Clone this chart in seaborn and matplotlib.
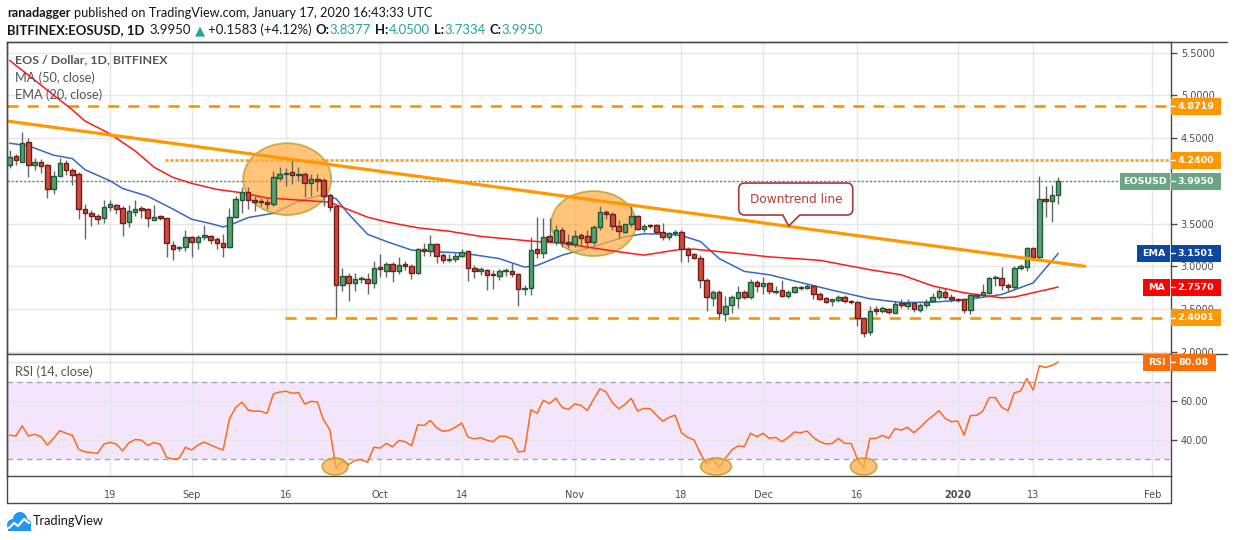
import matplotlib
matplotlib.use("Agg")
import numpy as np
import pandas as pd
import seaborn as sns
import matplotlib.pyplot as plt
import matplotlib.dates as mdates
from matplotlib.patches import Ellipse, Rectangle, PathPatch
from matplotlib.path import Path
from matplotlib.lines import Line2D

W, H = 1234, 540

# ---- daily candles EOS/USD (Aug 3 2019 -> Jan 17 2020) ----
first_day = "2019-08-03"
opens = [
    4.18, 4.29, 4.22, 4.46, 4.18, 4.22, 4.18, 3.91, 4.06, 4.21, 4.13, 4.08, 3.67, 3.62, 3.59,
    3.57, 3.69, 3.72, 3.68, 3.52, 3.63, 3.68, 3.67, 3.54, 3.59, 3.56, 3.25, 3.21, 3.22,
    3.34, 3.28, 3.34, 3.36, 3.32, 3.27, 3.22, 3.58, 3.78, 3.875, 3.775, 3.76, 3.75, 3.73, 4.035,
    4.08, 4.10, 4.07, 4.085, 3.97, 4.02, 4.005, 3.83, 3.70, 2.78, 2.89, 2.805, 2.85, 2.85, 2.80,
    2.995, 2.95, 3.025, 2.94, 3.03, 3.005, 2.92, 3.20, 3.18, 3.255, 3.13, 3.075, 3.08, 3.12, 3.18,
    2.98, 2.945, 2.96, 2.902, 2.885, 2.94, 2.945, 2.91, 2.735, 2.74, 3.205, 3.15, 3.355, 3.285, 3.42, 3.283,
    3.26, 3.37, 3.35, 3.28, 3.46, 3.637, 3.615, 3.475, 3.405, 3.49, 3.59, 3.44, 3.487, 3.485, 3.405,
    3.34, 3.385, 3.405, 3.20, 3.14, 3.093, 2.84, 2.63, 2.70, 2.44, 2.545, 2.63, 2.70, 2.64, 2.815,
    2.765, 2.805, 2.70, 2.72, 2.65, 2.70, 2.75, 2.745, 2.77, 2.68, 2.627, 2.592, 2.605, 2.643, 2.59,
    2.58, 2.39, 2.228, 2.497, 2.477, 2.505, 2.458, 2.573, 2.535, 2.566, 2.489, 2.543, 2.592, 2.642, 2.70, 2.642,
    2.612, 2.62, 2.488, 2.65, 2.665, 2.69, 2.858, 2.862, 2.785, 2.758, 2.985, 2.99, 3.208, 3.104, 3.786,
    3.76, 3.8377,
]
highs = [
    4.36, 4.31, 4.57, 4.50, 4.27, 4.26, 4.20, 4.11, 4.27, 4.24, 4.15, 4.10, 3.73, 3.66, 3.61,
    3.77, 3.78, 3.73, 3.70, 3.72, 3.78, 3.70, 3.68, 3.72, 3.60, 3.56, 3.29, 3.24, 3.43,
    3.36, 3.37, 3.48, 3.37, 3.34, 3.38, 3.68, 3.82, 3.93, 3.93, 3.825, 3.80, 3.80, 4.12, 4.16,
    4.15, 4.24, 4.16, 4.105, 4.075, 4.075, 4.035, 3.86, 3.71, 2.98, 2.92, 2.92, 2.89, 2.92, 3.06,
    3.145, 3.055, 3.055, 3.105, 3.06, 3.03, 3.21, 3.275, 3.37, 3.275, 3.15, 3.145, 3.15, 3.20, 3.19,
    3.02, 2.995, 2.97, 2.96, 2.97, 2.98, 3.035, 2.92, 2.785, 3.345, 3.58, 3.565, 3.565, 3.48, 3.46, 3.38,
    3.42, 3.39, 3.42, 3.48, 3.70, 3.66, 3.63, 3.545, 3.50, 3.70, 3.605, 3.50, 3.50, 3.50, 3.505,
    3.40, 3.42, 3.42, 3.22, 3.16, 3.13, 2.86, 2.72, 2.72, 2.65, 2.66, 2.77, 2.72, 2.85, 2.84,
    2.875, 2.81, 2.765, 2.84, 2.72, 2.77, 2.77, 2.79, 2.785, 2.695, 2.64, 2.62, 2.658, 2.658, 2.61,
    2.59, 2.41, 2.54, 2.535, 2.535, 2.515, 2.592, 2.62, 2.612, 2.573, 2.573, 2.612, 2.689, 2.746, 2.746, 2.67,
    2.63, 2.63, 2.69, 2.69, 2.796, 2.87, 2.90, 2.99, 2.804, 3.004, 3.028, 3.22, 3.22, 4.055, 3.94,
    3.95, 4.05,
]
lows = [
    4.15, 4.18, 4.22, 4.04, 4.13, 4.09, 3.80, 3.85, 4.06, 4.07, 3.95, 3.55, 3.32, 3.47, 3.49,
    3.51, 3.65, 3.61, 3.36, 3.46, 3.59, 3.57, 3.46, 3.54, 3.54, 3.11, 3.07, 3.18, 3.18,
    3.11, 3.20, 3.31, 3.26, 3.20, 3.11, 3.21, 3.56, 3.62, 3.67, 3.65, 3.71, 3.67, 3.70, 4.00,
    3.94, 3.96, 4.00, 3.81, 3.825, 3.88, 3.71, 3.65, 2.41, 2.71, 2.59, 2.71, 2.80, 2.68, 2.74,
    2.875, 2.875, 2.81, 2.91, 2.96, 2.85, 2.91, 3.12, 3.12, 3.04, 3.04, 3.045, 3.055, 3.105, 2.825,
    2.865, 2.90, 2.72, 2.735, 2.835, 2.885, 2.87, 2.535, 2.66, 2.665, 3.095, 3.095, 3.27, 3.25, 3.23, 3.21,
    3.22, 3.25, 3.21, 3.25, 3.42, 3.555, 3.42, 3.325, 3.385, 3.46, 3.42, 3.40, 3.45, 3.38, 3.305,
    3.305, 3.35, 3.045, 3.045, 3.085, 2.75, 2.48, 2.535, 2.38, 2.36, 2.45, 2.515, 2.62, 2.62, 2.695,
    2.68, 2.67, 2.67, 2.64, 2.63, 2.69, 2.72, 2.73, 2.62, 2.61, 2.565, 2.53, 2.58, 2.573, 2.555,
    2.30, 2.17, 2.19, 2.43, 2.458, 2.438, 2.45, 2.515, 2.504, 2.466, 2.466, 2.515, 2.58, 2.62, 2.612, 2.58,
    2.58, 2.45, 2.44, 2.63, 2.65, 2.68, 2.773, 2.727, 2.696, 2.72, 2.958, 2.94, 3.074, 3.089, 3.574,
    3.52, 3.7334,
]
closes = [
    4.28, 4.24, 4.44, 4.19, 4.22, 4.17, 3.91, 4.06, 4.21, 4.13, 4.07, 3.67, 3.62, 3.59, 3.55,
    3.69, 3.73, 3.67, 3.51, 3.65, 3.67, 3.66, 3.56, 3.58, 3.56, 3.27, 3.20, 3.23, 3.34,
    3.28, 3.34, 3.37, 3.31, 3.27, 3.22, 3.58, 3.79, 3.875, 3.78, 3.75, 3.75, 3.725, 4.04, 4.085,
    4.095, 4.07, 4.085, 3.97, 4.02, 4.00, 3.825, 3.69, 2.78, 2.89, 2.80, 2.85, 2.855, 2.80, 2.98,
    2.97, 3.025, 2.94, 3.01, 3.005, 2.92, 3.20, 3.18, 3.255, 3.125, 3.07, 3.09, 3.12, 3.17, 2.98,
    2.945, 2.97, 2.90, 2.895, 2.94, 2.95, 2.905, 2.735, 2.75, 3.185, 3.15, 3.345, 3.30, 3.42, 3.285, 3.264,
    3.36, 3.33, 3.285, 3.46, 3.635, 3.615, 3.475, 3.415, 3.49, 3.59, 3.44, 3.47, 3.47, 3.40, 3.345,
    3.385, 3.405, 3.20, 3.13, 3.10, 2.835, 2.64, 2.70, 2.45, 2.54, 2.64, 2.70, 2.64, 2.815, 2.765,
    2.805, 2.715, 2.715, 2.65, 2.70, 2.76, 2.74, 2.77, 2.68, 2.62, 2.58, 2.612, 2.643, 2.59, 2.58,
    2.39, 2.22, 2.477, 2.477, 2.508, 2.466, 2.554, 2.543, 2.573, 2.504, 2.546, 2.585, 2.642, 2.708, 2.642, 2.612,
    2.60, 2.488, 2.66, 2.66, 2.70, 2.862, 2.87, 2.777, 2.754, 2.977, 3.004, 3.208, 3.104, 3.786, 3.767,
    3.832, 3.995,
]

# moving averages, sampled from the drawn lines
ma50_dates = ["2019-08-03", "2019-08-13", "2019-08-15", "2019-08-19", "2019-08-23", "2019-08-26",
              "2019-08-29", "2019-09-01", "2019-09-05", "2019-09-09", "2019-09-13", "2019-09-18",
              "2019-09-23", "2019-09-29", "2019-10-02", "2019-10-07", "2019-10-12", "2019-10-17",
              "2019-10-25", "2019-10-30", "2019-11-07", "2019-11-12", "2019-11-18", "2019-11-20",
              "2019-11-27", "2019-12-02", "2019-12-10", "2019-12-18", "2019-12-23", "2019-12-28",
              "2020-01-02", "2020-01-08", "2020-01-10", "2020-01-13", "2020-01-17"]
ma50 = [5.41, 4.83, 4.70, 4.55, 4.35, 4.16, 4.04, 3.97, 3.90, 3.86, 3.80, 3.775,
        3.75, 3.575, 3.52, 3.45, 3.41, 3.35, 3.295, 3.27, 3.18, 3.13, 3.20, 3.20,
        3.15, 3.11, 3.07, 2.96, 2.90, 2.77, 2.69, 2.63, 2.64, 2.69, 2.757]

ema20_dates = ["2019-08-03", "2019-08-06", "2019-08-10", "2019-08-13", "2019-08-15", "2019-08-19",
               "2019-08-21", "2019-08-25", "2019-08-29", "2019-09-01", "2019-09-04", "2019-09-06",
               "2019-09-07", "2019-09-10", "2019-09-14", "2019-09-18", "2019-09-22", "2019-09-24",
               "2019-09-26", "2019-09-29", "2019-10-02", "2019-10-06", "2019-10-10", "2019-10-14",
               "2019-10-20", "2019-10-24", "2019-10-26", "2019-10-30", "2019-11-04", "2019-11-09",
               "2019-11-12", "2019-11-16", "2019-11-18", "2019-11-21", "2019-11-24", "2019-11-28",
               "2019-12-02", "2019-12-07", "2019-12-12", "2019-12-18", "2019-12-23", "2019-12-28",
               "2020-01-02", "2020-01-08", "2020-01-13", "2020-01-17"]
ema20 = [4.44, 4.41, 4.30, 4.26, 4.13, 4.00, 3.91, 3.82, 3.67, 3.55, 3.50, 3.46,
         3.48, 3.57, 3.62, 3.76, 3.84, 3.79, 3.61, 3.375, 3.29, 3.19, 3.17, 3.155,
         3.09, 2.99, 3.01, 3.13, 3.23, 3.345, 3.38, 3.375, 3.36, 3.29, 3.09, 2.94,
         2.90, 2.81, 2.72, 2.62, 2.575, 2.58, 2.605, 2.67, 2.805, 3.15]

# RSI(14), one value per candle
rsi14 = [
    42.5, 42.0, 47.3, 42.0, 42.9, 41.7, 37.4, 40.8, 44.8, 43.4,
    42.4, 35.1, 33.9, 33.5, 33.0, 37.8, 38.8, 37.8, 34.4, 38.5,
    40.2, 39.9, 37.1, 38.7, 37.7, 31.0, 30.1, 30.5, 36.2, 34.8,
    37.4, 38.9, 37.4, 36.0, 34.8, 50.8, 56.8, 59.4, 55.4, 54.8,
    54.8, 53.7, 63.7, 64.7, 65.1, 64.0, 64.4, 58.5, 59.9, 59.6,
    50.3, 45.2, 25.2, 29.0, 27.3, 29.5, 29.9, 28.5, 36.2, 35.8,
    38.2, 36.5, 39.7, 39.1, 37.0, 47.8, 47.5, 50.0, 46.3, 44.4,
    44.9, 46.6, 48.7, 41.5, 40.5, 41.2, 39.8, 39.1, 41.9, 41.9,
    40.5, 33.8, 34.2, 55.5, 53.8, 60.4, 58.7, 61.5, 56.7, 55.7,
    58.6, 57.8, 55.2, 60.9, 66.4, 64.7, 59.2, 56.1, 58.3, 61.4,
    54.9, 56.3, 56.1, 52.8, 49.7, 51.6, 52.7, 43.7, 41.3, 40.0,
    33.1, 27.6, 30.5, 25.7, 30.5, 34.8, 36.9, 36.5, 43.4, 41.7,
    43.4, 40.8, 41.3, 39.1, 41.3, 44.1, 43.7, 44.6, 41.3, 39.1,
    37.9, 38.2, 40.8, 38.2, 38.2, 30.5, 25.4, 40.8, 40.8, 42.4,
    40.8, 45.8, 45.1, 46.5, 43.7, 46.5, 49.7, 52.3, 55.1, 51.1,
    49.4, 49.7, 42.5, 52.5, 52.7, 54.9, 61.8, 61.8, 56.8, 55.1,
    64.3, 65.2, 71.7, 65.7, 78.2, 77.4, 78.4, 80.08,
]

# drawings on the chart
level_high = 4.8719
level_mid = 4.24
level_mid_from = "2019-08-27 18:00"
level_low = 2.4001
level_low_from = "2019-09-15 21:00"
last_close = 3.995
last_ema = 3.1501
last_ma = 2.757
last_rsi = 80.08
trend_dates = ["2019-08-02 14:00", "2020-01-21 06:00"]
trend_prices = [4.70, 3.00]
callout_tip = ("2019-12-05 02:00", 3.471)
circle_dates = ["2019-09-16 05:00", "2019-11-04 00:00"]
circle_prices = [4.02, 3.50]
circle_days = [14.0, 13.5]
circle_heights = [0.84, 0.76]
rsi_circle_dates = ["2019-09-23 20:00", "2019-11-23 12:00", "2019-12-17 00:00"]
rsi_circle_days = [4.1, 4.9, 4.2]
rsi_circle_level = 26.3

price_ticks = [2.0, 2.5, 3.0, 3.5, 4.0, 4.5, 5.0, 5.5]
price_tick_labels = ["2.0000", "2.5000", "3.0000", "3.5000", "", "4.5000", "5.0000", "5.5000"]
rsi_ticks = [40, 60, 80]
rsi_tick_labels = ["40.00", "60.00", ""]
tick_dates = ["2019-08-19", "2019-09-01", "2019-09-16", "2019-10-01", "2019-10-14", "2019-11-01",
              "2019-11-18", "2019-12-01", "2019-12-16", "2020-01-01", "2020-01-13", "2020-02-01"]
tick_labels = ["19", "Sep", "16", "Oct", "14", "Nov", "18", "Dec", "16", "2020", "13", "Feb"]

# ---- style ----
sns.set_style("white")
plt.rcParams["font.family"] = ["DejaVu Sans"]
plt.rcParams["lines.scale_dashes"] = False
hfont = ["Lato", "DejaVu Sans"]

GREEN, GREEN_EDGE = "#56A072", "#1F5A35"
RED, RED_EDGE = "#D2493C", "#6E1E1A"
ORANGE = "#FF9800"
FRAME = "#4A4A4A"
TICK = "#4D4D4D"

fig = plt.figure(figsize=(W / 100, H / 100), dpi=100)
fig.patch.set_facecolor("white")


def fx(x):
    return x / W


def fy(y):
    return 1 - y / H


ax = fig.add_axes([fx(7), fy(354), (1171 - 7) / W, (354 - 42) / H])
ax_rsi = fig.add_axes([fx(7), fy(476), (1171 - 7) / W, (476 - 354) / H], sharex=ax)

dates = pd.date_range(first_day, periods=len(closes), freq="D")
o, h, l, c = (np.array(v) for v in (opens, highs, lows, closes))
up = c >= o
body_lo = np.minimum(o, c)
body_h = np.maximum(np.abs(c - o), 0.012)

# price panel
ax.axhline(last_close, color="#4F9A6A", lw=1, dashes=(1.5, 1.5), zorder=1)
ax.axhline(level_high, color=ORANGE, lw=2, dashes=(8, 6.5), zorder=2)
xmax = pd.Timestamp("2020-02-03 23:00")
ax.plot([pd.Timestamp(level_mid_from), xmax], [level_mid, level_mid], color="#FFA21F", lw=2,
        dashes=(2.3, 1.3), zorder=2)
ax.plot([pd.Timestamp(level_low_from), xmax], [level_low, level_low], color=ORANGE, lw=2,
        dashes=(8, 6.5), zorder=2)

sns.lineplot(x=pd.to_datetime(ema20_dates), y=ema20, ax=ax, color="#3668C9", linewidth=1.1, zorder=2)
for d, p, wd, ht in zip(circle_dates, circle_prices, circle_days, circle_heights):
    ax.add_patch(Ellipse((mdates.date2num(pd.Timestamp(d)), p), wd, ht, facecolor="#FFAE45",
                         alpha=0.72, edgecolor="#B09A20", lw=1.3, zorder=3))
sns.lineplot(x=pd.to_datetime(ma50_dates), y=ma50, ax=ax, color="#FF1A1A", linewidth=1.1, zorder=4)

ax.vlines(dates, l, h, color="#666666", lw=1, zorder=5)
ax.bar(dates[up], body_h[up], bottom=body_lo[up], width=0.72, color=GREEN, edgecolor=GREEN_EDGE,
       linewidth=1, zorder=6)
ax.bar(dates[~up], body_h[~up], bottom=body_lo[~up], width=0.72, color=RED, edgecolor=RED_EDGE,
       linewidth=1, zorder=6)
sns.lineplot(x=pd.to_datetime(trend_dates), y=trend_prices, ax=ax, color=ORANGE, linewidth=2.3, zorder=7)

ax.set_xlim(pd.Timestamp("2019-08-02 14:00"), xmax)
ax.set_ylim(1.973, 5.625)
ax.yaxis.tick_right()
ax.set_yticks(price_ticks)
ax.set_yticklabels(price_tick_labels)
ax.tick_params(axis="y", direction="out", length=4, width=1, colors=TICK, labelsize=7, pad=3,
               left=False, right=True)
ax.tick_params(axis="x", length=0, labelbottom=False)

# RSI panel
ax_rsi.axhspan(30, 70, color="#F3E6FC", lw=0, zorder=0.1)
ax_rsi.axhline(70, color="#ABA3B5", lw=1, dashes=(4, 3), zorder=1)
ax_rsi.axhline(30, color="#ABA3B5", lw=1, dashes=(4, 3), zorder=1)
sns.lineplot(x=dates, y=rsi14, ax=ax_rsi, color="#FF6A1A", linewidth=1.1, zorder=3)
for d, wd in zip(rsi_circle_dates, rsi_circle_days):
    ax_rsi.add_patch(Ellipse((mdates.date2num(pd.Timestamp(d)), rsi_circle_level), wd, 8.8,
                             facecolor="#FFAE45", alpha=0.75, edgecolor="#B09A20", lw=1.2, zorder=4))
ax_rsi.set_ylim(21.4, 84.3)
ax_rsi.yaxis.tick_right()
ax_rsi.set_yticks(rsi_ticks)
ax_rsi.set_yticklabels(rsi_tick_labels)
ax_rsi.tick_params(axis="y", direction="out", length=4, width=1, colors=TICK, labelsize=7, pad=3,
                   left=False, right=True)
ax_rsi.set_xticks(pd.to_datetime(tick_dates))
ax_rsi.set_xticklabels(tick_labels)
ax_rsi.tick_params(axis="x", direction="out", length=4, width=1, colors=TICK, labelsize=7, pad=6)
for t in ax_rsi.get_xticklabels():
    if t.get_text() == "2020":
        t.set_fontweight("bold")

for a in (ax, ax_rsi):
    a.grid(True, color="#E6E6E6", lw=1)
    a.set_axisbelow(True)
    a.set_xlabel("")
    a.set_ylabel("")
    for s in a.spines.values():
        s.set_color(FRAME)
        s.set_linewidth(1)

# outer frame around the chart
for x0, y0, x1, y1 in [(7, 42, 1227, 42), (7, 42, 7, 503), (7, 503, 1171, 503),
                       (1171, 476, 1171, 503), (1171, 354, 1227, 354)]:
    fig.add_artist(Line2D([fx(x0), fx(x1)], [fy(y0), fy(y1)], color=FRAME, lw=1,
                          transform=fig.transFigure))

inv = fig.transFigure.inverted()
renderer = fig.canvas.get_renderer()


def fit(t, width_px):
    w = t.get_window_extent(renderer).width
    t.set_fontsize(t.get_fontsize() * width_px / w)


def tag(axis, value, text, color, x0, x1):
    yd = axis.transData.transform((0, value))[1]
    yc = inv.transform((0, yd))[1]
    hh = 17 / H
    fig.add_artist(Rectangle((fx(x0), yc - hh / 2), (x1 - x0) / W, hh, transform=fig.transFigure,
                             facecolor=color, edgecolor="none", zorder=5))
    fig.text(fx((x0 + x1) / 2), yc, text, color="white", ha="center", va="center", fontsize=6.8,
             fontweight="bold", zorder=6)
    if x0 >= 1171:
        fig.add_artist(Line2D([fx(1171), fx(1175)], [yc, yc], color="white", lw=1,
                              transform=fig.transFigure, zorder=6))


tag(ax, level_high, f"{level_high:.4f}", ORANGE, 1171, 1221)
tag(ax, level_mid, f"{level_mid:.4f}", ORANGE, 1171, 1221)
tag(ax, last_close, "EOSUSD", "#6BA583", 1120, 1170)
tag(ax, last_close, f"{last_close:.4f}", "#6BA583", 1171, 1221)
tag(ax, last_ema, "EMA", "#0D47A1", 1137, 1170)
tag(ax, last_ema, f"{last_ema:.4f}", "#0D47A1", 1171, 1221)
tag(ax, last_ma, "MA", "#FF0000", 1143, 1170)
tag(ax, last_ma, f"{last_ma:.4f}", "#FF0000", 1171, 1221)
tag(ax, level_low, f"{level_low:.4f}", ORANGE, 1171, 1221)
tag(ax_rsi, last_rsi, "RSI", "#FF6D00", 1143, 1170)
tag(ax_rsi, last_rsi, f"{last_rsi:.2f}", "#FF6D00", 1171, 1216)

# callout "Downtrend line"
tx, ty = ax.transData.transform((mdates.date2num(pd.Timestamp(callout_tip[0])), callout_tip[1]))
L, R, B, T, r = tx - 50, tx + 64, ty + 11, ty + 43, 6
a0, b0 = tx - 6, tx + 11
verts = [(L + r, B), (a0, B), (tx, ty), (b0, B), (R - r, B), (R, B), (R, B + r), (R, T - r), (R, T),
         (R - r, T), (L + r, T), (L, T), (L, T - r), (L, B + r), (L, B), (L + r, B), (L + r, B)]
codes = [Path.MOVETO, Path.LINETO, Path.LINETO, Path.LINETO, Path.LINETO, Path.CURVE3, Path.CURVE3,
         Path.LINETO, Path.CURVE3, Path.CURVE3, Path.LINETO, Path.CURVE3, Path.CURVE3, Path.LINETO,
         Path.CURVE3, Path.CURVE3, Path.CLOSEPOLY]
fig.add_artist(PathPatch(Path(inv.transform(verts), codes), transform=fig.transFigure,
                         facecolor="white", edgecolor="#A5393C", lw=1.2, zorder=3))
cx, cy = inv.transform((tx + 7, ty + 27))
t = fig.text(cx, cy, "Downtrend line", ha="center", va="center", color="#B0413E", fontsize=10, zorder=4)
fit(t, 92)

# legend texts inside panels
for txt, y, wpx, wt in [("EOS / Dollar, 1D, BITFINEX", 60, 152, "bold"), ("MA (50, close)", 78, 80, "normal"),
                        ("EMA (20, close)", 95, 87, "normal"), ("RSI (14, close)", 372, 78, "normal")]:
    t = fig.text(fx(15), fy(y), txt, color="#555555", fontsize=10, fontweight=wt, family=hfont,
                 ha="left", va="center", zorder=4)
    fit(t, wpx)

# header
probe = fig.text(0, 0, "ranadagger published on TradingView.com, January 17, 2020 16:43:33 UTC",
                 fontsize=10, family=hfont)
hsize = 10 * 424 / probe.get_window_extent(renderer).width
probe.remove()

DARK, TEAL = "#131722", "#26A69A"


def runs(x, y, parts, size, target_end=None):
    made = []
    x_start = x
    for txt, wt, col, gap in parts:
        tt = fig.text(fx(x), fy(y), txt, fontsize=size, fontweight=wt, color=col, family=hfont,
                      ha="left", va="center")
        made.append(tt)
        x += tt.get_window_extent(renderer).width + gap * size / hsize
    if target_end is not None and abs(x - target_end) > 2:
        for tt in made:
            tt.remove()
        runs(x_start, y, parts, size * (target_end - x_start) / (x - x_start))


sp = hsize * 0.35
runs(7, 13, [("ranadagger", "bold", DARK, sp),
             ("published on TradingView.com, January 17, 2020 16:43:33 UTC", "normal", DARK, 0)], hsize)
runs(7, 30, [("BITFINEX:EOSUSD, 1D", "bold", DARK, sp * 1.6), ("3.9950", "normal", DARK, sp),
             ("▲", "normal", TEAL, sp), ("+0.1583 (+4.12%)", "normal", DARK, sp * 1.3),
             ("O:", "bold", DARK, 0), ("3.8377", "normal", TEAL, sp * 1.3),
             ("H:", "bold", DARK, 0), ("4.0500", "normal", TEAL, sp * 1.3),
             ("L:", "bold", DARK, 0), ("3.7334", "normal", TEAL, sp * 1.3),
             ("C:", "bold", DARK, 0), ("3.9950", "normal", TEAL, 0)], hsize, target_end=545)

# TradingView logo
BLUE = "#2196F3"
for cxp, cyp, d in [(13, 525, 12), (20, 519, 14), (26, 524, 10)]:
    fig.add_artist(Ellipse((fx(cxp), fy(cyp)), d / W, d / H, transform=fig.transFigure,
                           facecolor=BLUE, edgecolor="none"))
fig.add_artist(Rectangle((fx(7.5), fy(530.5)), 23 / W, 6.5 / H, transform=fig.transFigure,
                         facecolor=BLUE, edgecolor="none"))
fig.add_artist(Line2D([fx(9), fx(14), fx(18), fx(24), fx(29)], [fy(528), fy(523), fy(526), fy(519), fy(523)],
                      color="white", lw=1.6, transform=fig.transFigure))
t = fig.text(fx(33), fy(521), "TradingView", fontsize=10, color=DARK, family=hfont, ha="left", va="center")
fit(t, 71)

fig.savefig("out.png", dpi=100)
